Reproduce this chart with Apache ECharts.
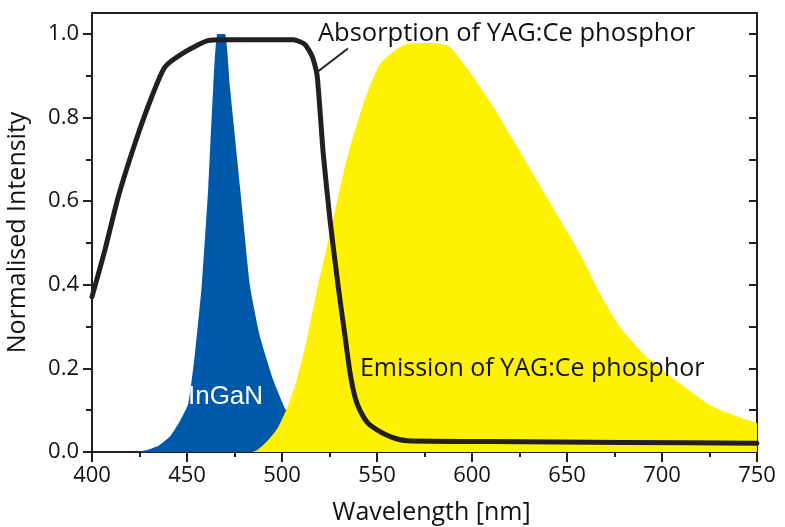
<!DOCTYPE html>
<html>
<head>
<meta charset="utf-8">
<script src="https://cdn.jsdelivr.net/npm/echarts@6/dist/echarts.min.js"></script>
<style>
html,body{margin:0;padding:0;background:#ffffff;}
#chart{width:785px;height:527px;}
</style>
</head>
<body>
<div id="chart"></div>
<script>
// ---- data ----
const inganWavelength = [423.5, 429, 435, 441, 446, 450.7, 454.2, 457.7, 461.2, 463.8, 466, 470, 472.6, 477.9, 483.2, 488.4, 495.4, 501.6, 508, 515, 525, 535];
const inganIntensity  = [0, 0.005, 0.015, 0.037, 0.072, 0.116, 0.236, 0.395, 0.634, 0.873, 1.0, 1.0, 0.873, 0.634, 0.395, 0.276, 0.172, 0.104, 0.06, 0.03, 0.01, 0];

const emissionWavelength = [484, 487, 493, 498, 502.5, 507, 513, 519, 525.3, 534, 542.8, 550, 553.3, 563.8, 574, 581, 588, 597, 604, 612, 621.7, 639.3, 656.8, 667.4, 677.9, 691.9, 709.5, 727, 750];
const emissionIntensity  = [0, 0.005, 0.03, 0.06, 0.104, 0.16, 0.268, 0.4, 0.523, 0.698, 0.833, 0.915, 0.937, 0.973, 0.978, 0.977, 0.97, 0.92, 0.875, 0.82, 0.746, 0.61, 0.475, 0.379, 0.299, 0.228, 0.164, 0.108, 0.069];

const absorptionWavelength = [400, 406.8, 413.8, 422.6, 431.4, 438.4, 449, 461, 470, 506, 512, 516, 518.5, 521.7, 525.3, 529.6, 533.2, 535.8, 538.5, 541, 545, 550, 558, 566, 610, 680, 750];
const absorptionIntensity  = [0.371, 0.483, 0.61, 0.738, 0.849, 0.921, 0.957, 0.984, 0.986, 0.986, 0.975, 0.945, 0.90, 0.714, 0.554, 0.395, 0.276, 0.19, 0.13, 0.10, 0.07, 0.053, 0.035, 0.027, 0.025, 0.023, 0.021];

const xTickValues = [400, 450, 500, 550, 600, 650, 700, 750];
const yTickValues = [0, 0.2, 0.4, 0.6, 0.8, 1.0];
const yMinorTickValues = [0.1, 0.3, 0.5, 0.7, 0.9];
const yRightTickValues = [0.1, 0.2, 0.3, 0.4, 0.5, 0.6, 0.7, 0.8, 0.9, 1.0];

const xAxisTitle = 'Wavelength [nm]';
const yAxisTitle = 'Normalised Intensity';
const absorptionLabel = 'Absorption of YAG:Ce phosphor';
const emissionLabel = 'Emission of YAG:Ce phosphor';
const inganLabel = 'InGaN';

// ---- build ----
const zip = (xs, ys) => xs.map((x, i) => [x, ys[i]]);
const INK = '#231f20';
const FONT = '"Open Sans", sans-serif';
const X_MIN = 400, X_MAX = 750, Y_MIN = 0, Y_MAX = 1.05;

const chart = echarts.init(document.getElementById('chart'), null, {renderer: 'canvas'});

const baseY = {type: 'value', min: Y_MIN, max: Y_MAX, splitLine: {show: false}, minorSplitLine: {show: false}};

const option = {
  backgroundColor: '#ffffff',
  animation: false,
  grid: {left: 92, right: 28, top: 13, bottom: 75, show: false, containLabel: false, outerBoundsMode: 'none'},
  xAxis: [
    {
      type: 'value', min: X_MIN, max: X_MAX, interval: 50, position: 'bottom',
      axisLine: {show: true, onZero: false, lineStyle: {color: INK, width: 2}},
      axisTick: {show: true, inside: false, length: 10, lineStyle: {color: INK, width: 2}, customValues: xTickValues},
      minorTick: {show: true, splitNumber: 2, length: 5, lineStyle: {color: INK, width: 2}},
      axisLabel: {show: true, fontFamily: FONT, fontSize: 22, color: '#111', margin: 13, customValues: xTickValues},
      splitLine: {show: false},
      name: xAxisTitle, nameLocation: 'middle', nameGap: 48,
      nameTextStyle: {fontFamily: FONT, fontSize: 25, color: '#111', padding: [0, 0, 0, 14]}
    },
    {
      type: 'value', min: X_MIN, max: X_MAX, position: 'top',
      axisLine: {show: true, onZero: false, lineStyle: {color: INK, width: 2}},
      axisTick: {show: false}, axisLabel: {show: false}, splitLine: {show: false}
    }
  ],
  yAxis: [
    Object.assign({}, baseY, {
      position: 'left',
      axisLine: {show: true, onZero: false, lineStyle: {color: INK, width: 2}},
      axisTick: {show: true, inside: false, length: 9, lineStyle: {color: INK, width: 2}, customValues: yTickValues},
      axisLabel: {show: true, fontFamily: FONT, fontSize: 22, color: '#111', margin: 13,
                  customValues: yTickValues, formatter: v => v.toFixed(1)},
      name: yAxisTitle, nameLocation: 'middle', nameGap: 62, nameRotate: 90,
      nameTextStyle: {fontFamily: FONT, fontSize: 25, color: '#111', padding: [0, 0, 0, 0]}
    }),
    Object.assign({}, baseY, {
      position: 'right',
      axisLine: {show: true, onZero: false, lineStyle: {color: INK, width: 2}},
      axisTick: {show: true, inside: true, length: 8, lineStyle: {color: INK, width: 2}, customValues: yRightTickValues},
      axisLabel: {show: false}
    }),
    Object.assign({}, baseY, {
      position: 'left',
      axisLine: {show: false},
      axisTick: {show: true, inside: false, length: 6, lineStyle: {color: INK, width: 2}, customValues: yMinorTickValues},
      axisLabel: {show: false}
    })
  ],
  series: [
    {
      name: inganLabel, type: 'line', xAxisIndex: 0, yAxisIndex: 0,
      data: zip(inganWavelength, inganIntensity),
      showSymbol: false, smooth: 0.15,
      lineStyle: {width: 0}, areaStyle: {color: '#0058a9', opacity: 1}, z: 2
    },
    {
      name: emissionLabel, type: 'line', xAxisIndex: 0, yAxisIndex: 0,
      data: zip(emissionWavelength, emissionIntensity),
      showSymbol: false, smooth: 0.25,
      lineStyle: {width: 0}, areaStyle: {color: '#fff200', opacity: 1}, z: 3
    },
    {
      name: absorptionLabel, type: 'line', xAxisIndex: 0, yAxisIndex: 0,
      data: zip(absorptionWavelength, absorptionIntensity),
      showSymbol: false, smooth: 0.2,
      lineStyle: {width: 5, color: INK, cap: 'round', join: 'round'}, z: 4
    }
  ]
};
chart.setOption(option);

// annotation anchors in data coordinates
const anchors = {
  absorption: [518.9, 1.0],
  emission: [541, 0.198],
  ingan: [450.5, 0.131],
  leaderFrom: [518.9, 0.91],
  leaderTo: [534.7, 0.965]
};
const px = p => chart.convertToPixel({xAxisIndex: 0, yAxisIndex: 0}, p);
const a = px(anchors.absorption), e = px(anchors.emission), g = px(anchors.ingan);
const l1 = px(anchors.leaderFrom), l2 = px(anchors.leaderTo);
chart.setOption({
  graphic: [
    {type: 'line', z: 100, shape: {x1: l1[0], y1: l1[1], x2: l2[0], y2: l2[1]}, style: {stroke: INK, lineWidth: 2}},
    {type: 'text', z: 100, x: a[0], y: a[1], style: {text: absorptionLabel, font: '25.5px ' + FONT, fill: '#111', verticalAlign: 'middle', align: 'left'}},
    {type: 'text', z: 100, x: e[0], y: e[1], style: {text: emissionLabel, font: '25px ' + FONT, fill: '#111', verticalAlign: 'middle', align: 'left'}},
    {type: 'text', z: 100, x: g[0], y: g[1], style: {text: inganLabel, font: '26px "Liberation Sans", Arial, sans-serif', fill: '#ffffff', verticalAlign: 'middle', align: 'left'}}
  ]
});
</script>
</body>
</html>
